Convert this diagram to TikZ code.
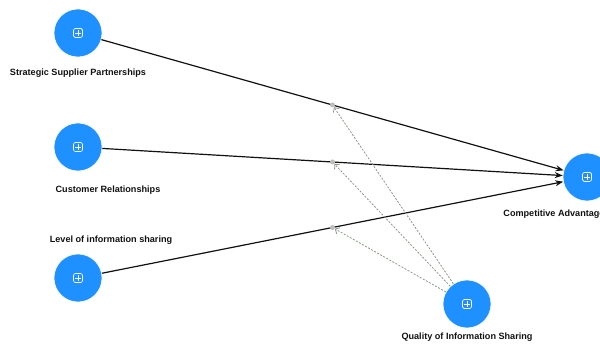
\documentclass[tikz,border=0pt]{standalone}
\usepackage{fontspec}
\setmainfont{Liberation Sans}
\usetikzlibrary{positioning,arrows.meta,calc}
\definecolor{nodeblue}{HTML}{1E90FF}
\definecolor{modline}{HTML}{869A84}
\definecolor{moddot}{HTML}{BDBDBD}
\definecolor{ink}{HTML}{111111}

\begin{document}
\begin{tikzpicture}[
    x=1pt, y=-1pt,
    construct/.style={circle, fill=nodeblue, draw=white, line width=0.6pt,
                      minimum size=48pt, inner sep=0pt,
                      path picture={
                        \draw[white, line width=0.7pt, rounded corners=1.5pt]
                          ($(path picture bounding box.center)+(-4.5pt,-4.5pt)$) rectangle ++(9pt,9pt);
                        \draw[white, line width=0.7pt]
                          ($(path picture bounding box.center)+(-2.7pt,0pt)$) -- ++(5.4pt,0pt)
                          ($(path picture bounding box.center)+(0pt,-2.7pt)$) -- ++(0pt,5.4pt);
                      }},
    caption/.style={font=\fontsize{9.1}{10}\selectfont\bfseries, text=ink, inner sep=1pt},
    effect/.style={-{Stealth[length=8pt, width=6pt]}, line width=1.2pt, color=ink},
    moderation/.style={-{Straight Barb[length=3.5pt, width=7pt]}, line width=0.8pt,
                       color=modline, dash pattern=on 2pt off 1.5pt},
    junction/.style={circle, fill=moddot, minimum size=5pt, inner sep=0pt},
  ]
  \useasboundingbox (0,0) rectangle (600,344);

  % constructs
  \node[construct] (ssp) at (78,33) {};
  \node[construct] (cr)  at (78,147) {};
  \node[construct] (lis) at (78,278) {};
  \node[construct] (ca)  at (587,177) {};
  \node[construct] (qis) at (467,304) {};

  % labels
  \node[caption, below=10pt of ssp] (ssplabel) {Strategic Supplier Partnerships};
  \node[caption, below=13pt of cr, xshift=30pt] (crlabel) {Customer Relationships};
  \node[caption, above=8pt of lis, xshift=33pt] (lislabel) {Level of information sharing};
  \node[caption, below=7pt of ca, xshift=-33pt] (calabel) {Competitive Advantage};
  \node[caption, below=3pt of qis] (qislabel) {Quality of Information Sharing};

  % direct effects
  \draw[effect] (ssp) -- coordinate[pos=0.5] (m1) (ca);
  \draw[effect] (cr)  -- coordinate[pos=0.5] (m2) (ca);
  \draw[effect] (lis) -- coordinate[pos=0.5] (m3) (ca);

  % moderating effects
  \node[junction] (j1) at (m1) {};
  \node[junction] (j2) at (m2) {};
  \node[junction] (j3) at (m3) {};
  \draw[moderation] (qis) -- (j1);
  \draw[moderation] (qis) -- (j2);
  \draw[moderation] (qis) -- (j3);
\end{tikzpicture}
\end{document}
